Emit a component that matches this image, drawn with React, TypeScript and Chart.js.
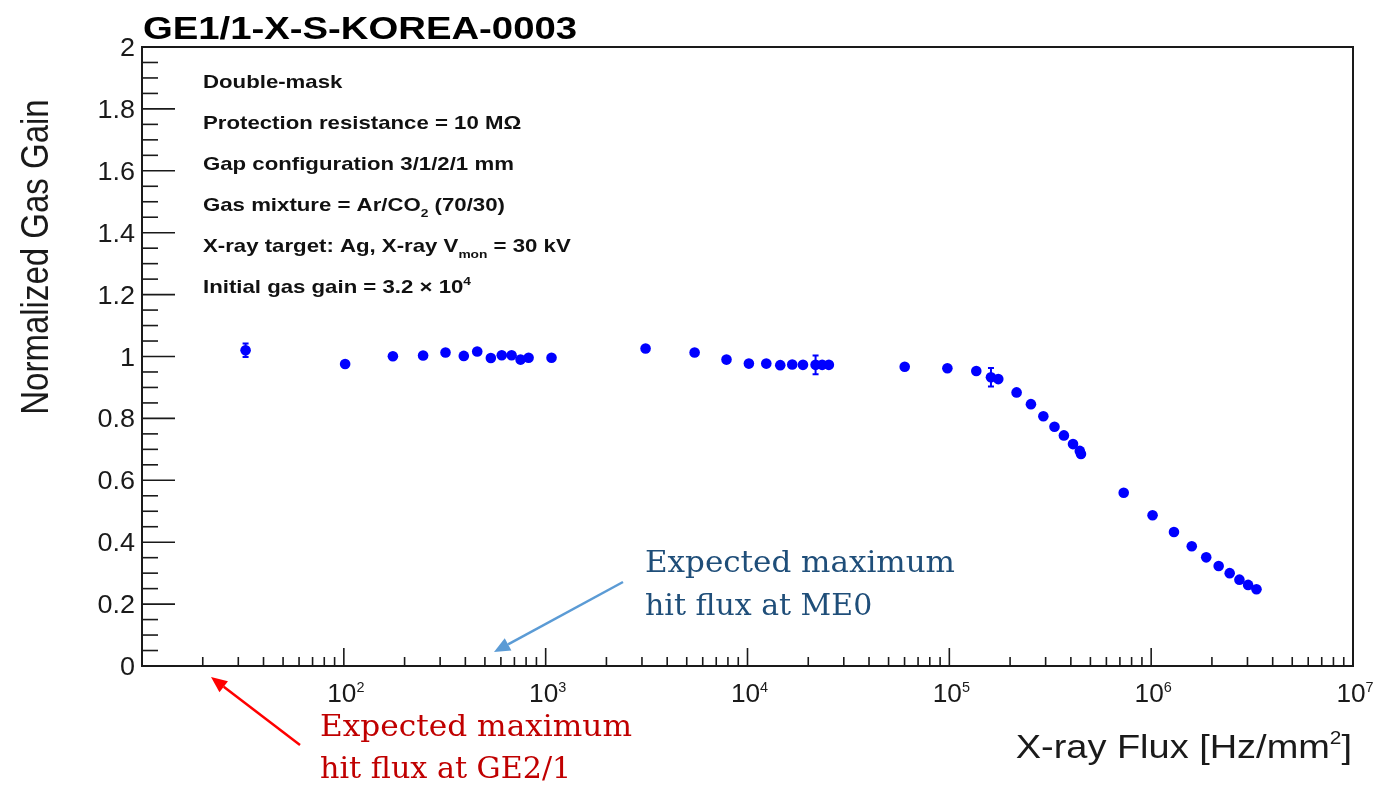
import React, { useEffect, useRef } from "react";
import { Chart, registerables } from "chart.js";

Chart.register(...registerables);

// ---------------- data ----------------
const fluxHzPerMm2 = [
  32.6, 101.5, 175, 247, 319, 393, 458, 535, 606, 678, 751, 823, 1069,
  3126, 5470, 7870, 10160, 12390, 14530, 16660, 18830, 21740, 23440, 25300,
  60100, 97800, 136000, 160800, 174800, 215400, 253700, 292300, 331900,
  369500, 410000, 443000, 449000, 731000, 1016000, 1297000, 1589000,
  1874000, 2160000, 2449000, 2737000, 3022000, 3325000,
];
const normalizedGain = [
  1.02, 0.976, 1.001, 1.003, 1.013, 1.002, 1.016, 0.995, 1.004, 1.004, 0.99,
  0.996, 0.996, 1.026, 1.013, 0.99, 0.977, 0.977, 0.972, 0.974, 0.973, 0.973,
  0.973, 0.973, 0.967, 0.962, 0.953, 0.933, 0.927, 0.884, 0.846, 0.807,
  0.773, 0.745, 0.717, 0.695, 0.685, 0.56, 0.487, 0.433, 0.387, 0.351, 0.323,
  0.3, 0.279, 0.262, 0.248,
];
const gainError = [
  0.022, 0, 0, 0, 0, 0, 0, 0, 0, 0, 0, 0, 0, 0, 0, 0, 0, 0, 0, 0, 0, 0.03, 0,
  0, 0, 0, 0, 0.03, 0, 0, 0, 0, 0, 0, 0, 0, 0, 0, 0, 0, 0, 0, 0, 0, 0, 0, 0,
];

const xMin = 10;
const xMax = 1e7;
const yMin = 0;
const yMax = 2;
const yTickValues = [0, 0.2, 0.4, 0.6, 0.8, 1, 1.2, 1.4, 1.6, 1.8, 2];
const yTickLabels = ["0", "0.2", "0.4", "0.6", "0.8", "1", "1.2", "1.4", "1.6", "1.8", "2"];
const yMinorPerMajor = 4;
const xDecadeExponents = [2, 3, 4, 5, 6, 7];
const xTickBase = "10";

const chartTitle = "GE1/1-X-S-KOREA-0003";
const yAxisTitle = "Normalized Gas Gain";
const xAxisTitle = [
  { t: "X-ray Flux [Hz/mm" },
  { t: "2", k: "sup" },
  { t: "]" },
];
const infoLines = [
  [{ t: "Double-mask" }],
  [{ t: "Protection resistance = 10 M\u03A9" }],
  [{ t: "Gap configuration 3/1/2/1 mm" }],
  [{ t: "Gas mixture = Ar/CO" }, { t: "2", k: "sub" }, { t: " (70/30)" }],
  [{ t: "X-ray target: Ag, X-ray V" }, { t: "mon", k: "sub" }, { t: " = 30 kV" }],
  [{ t: "Initial gas gain = 3.2 \u00D7 10" }, { t: "4", k: "sup" }],
];
const me0Note = ["Expected maximum", "hit flux at ME0"];
const ge21Note = ["Expected maximum", "hit flux at GE2/1"];

// ---------------- drawing helpers ----------------
type Seg = { t: string; k?: string };

function drawRich(
  ctx: CanvasRenderingContext2D,
  segs: Seg[],
  x: number,
  y: number,
  o: { size: number; weight?: string; family?: string; align?: string; sx?: number; width?: number; color?: string; small?: number }
) {
  const family = o.family || "'Liberation Sans', Arial, sans-serif";
  const weight = o.weight || "normal";
  const small = o.size * (o.small || 0.62);
  const fontFor = (k?: string) =>
    `${weight} ${k ? small : o.size}px ${family}`;
  let w = 0;
  const widths = segs.map((s) => {
    ctx.font = fontFor(s.k);
    const m = ctx.measureText(s.t).width;
    w += m;
    return m;
  });
  const sx = o.width ? o.width / w : o.sx || 1;
  const total = w * sx;
  let x0 = x;
  if (o.align === "right") x0 = x - total;
  else if (o.align === "center") x0 = x - total / 2;
  ctx.save();
  ctx.translate(x0, y);
  ctx.scale(sx, 1);
  ctx.fillStyle = o.color || "#111";
  ctx.textBaseline = "alphabetic";
  ctx.textAlign = "left";
  let cx = 0;
  segs.forEach((s, i) => {
    ctx.font = fontFor(s.k);
    let dy = 0;
    if (s.k === "sup") dy = -o.size * 0.42;
    if (s.k === "sub") dy = o.size * 0.3;
    ctx.fillText(s.t, cx, dy);
    cx += widths[i];
  });
  ctx.restore();
}

function arrow(
  ctx: CanvasRenderingContext2D,
  x1: number,
  y1: number,
  x2: number,
  y2: number,
  color: string
) {
  const ang = Math.atan2(y2 - y1, x2 - x1);
  const hl = 16;
  const hw = 7;
  const bx = x2 - hl * Math.cos(ang);
  const by = y2 - hl * Math.sin(ang);
  ctx.save();
  ctx.strokeStyle = color;
  ctx.fillStyle = color;
  ctx.lineWidth = 2.5;
  ctx.beginPath();
  ctx.moveTo(x1, y1);
  ctx.lineTo(bx, by);
  ctx.stroke();
  ctx.beginPath();
  ctx.moveTo(x2, y2);
  ctx.lineTo(bx + hw * Math.sin(ang), by - hw * Math.cos(ang));
  ctx.lineTo(bx - hw * Math.sin(ang), by + hw * Math.cos(ang));
  ctx.closePath();
  ctx.fill();
  ctx.restore();
}

const rootStylePlugin = {
  id: "rootStyle",
  beforeDatasetsDraw(chart: any) {
    const ctx: CanvasRenderingContext2D = chart.ctx;
    const { left, right, top, bottom } = chart.chartArea;
    const xs = chart.scales.x;
    const ys = chart.scales.y;
    ctx.save();
    // frame
    ctx.strokeStyle = "#1a1a1a";
    ctx.lineWidth = 2;
    ctx.strokeRect(left, top, right - left, bottom - top);

    // y ticks
    ctx.lineWidth = 1.6;
    for (let i = 0; i < yTickValues.length; i++) {
      const v = yTickValues[i];
      const py = ys.getPixelForValue(v);
      ctx.beginPath();
      ctx.moveTo(left, py);
      ctx.lineTo(left + 33, py);
      ctx.stroke();
      if (i < yTickValues.length - 1) {
        const step = (yTickValues[i + 1] - v) / yMinorPerMajor;
        for (let j = 1; j < yMinorPerMajor; j++) {
          const pm = ys.getPixelForValue(v + j * step);
          ctx.beginPath();
          ctx.moveTo(left, pm);
          ctx.lineTo(left + 16, pm);
          ctx.stroke();
        }
      }
      drawRich(ctx, [{ t: yTickLabels[i] }], 135, py + 9, {
        size: 25,
        align: "right",
        sx: 1.08,
        color: "#1a1a1a",
      });
    }

    // x ticks
    const firstExp = Math.round(Math.log10(xMin));
    const lastExp = Math.round(Math.log10(xMax));
    for (let e = firstExp; e <= lastExp; e++) {
      for (let m = 1; m <= 9; m++) {
        const v = m * Math.pow(10, e);
        if (v < xMin || v > xMax) continue;
        const px = xs.getPixelForValue(v);
        const len = m === 1 ? 18 : 9;
        ctx.beginPath();
        ctx.moveTo(px, bottom);
        ctx.lineTo(px, bottom - len);
        ctx.stroke();
      }
    }
    xDecadeExponents.forEach((e) => {
      const px = xs.getPixelForValue(Math.pow(10, e));
      drawRich(ctx, [{ t: xTickBase }, { t: String(e), k: "sup" }], px + 2, 702, {
        size: 25,
        align: "center",
        sx: 1.05,
        small: 0.55,
        color: "#1a1a1a",
      });
    });

    // titles
    drawRich(ctx, [{ t: chartTitle }], 143, 39, {
      size: 31,
      weight: "bold",
      width: 434,
      color: "#000",
    });
    drawRich(ctx, xAxisTitle, 1352, 758, {
      size: 33,
      sx: 1.15,
      align: "right",
      small: 0.55,
      color: "#1a1a1a",
    });
    // y title rotated
    ctx.save();
    ctx.translate(48, 257);
    ctx.rotate(-Math.PI / 2);
    ctx.scale(1, 1.2);
    ctx.font = "normal 33px 'Liberation Sans', Arial, sans-serif";
    ctx.fillStyle = "#1a1a1a";
    ctx.textAlign = "center";
    ctx.textBaseline = "alphabetic";
    ctx.fillText(yAxisTitle, 0, 0);
    ctx.restore();

    // info text
    infoLines.forEach((segs, i) => {
      drawRich(ctx, segs, 203, 88 + i * 41, {
        size: 18.5,
        weight: "bold",
        sx: 1.2,
        color: "#111",
      });
    });

    // error bars
    ctx.strokeStyle = "#0000ff";
    ctx.lineWidth = 2;
    fluxHzPerMm2.forEach((f, i) => {
      const err = gainError[i];
      if (!err) return;
      const px = xs.getPixelForValue(f);
      const y1 = ys.getPixelForValue(normalizedGain[i] + err);
      const y2 = ys.getPixelForValue(normalizedGain[i] - err);
      ctx.beginPath();
      ctx.moveTo(px, y1);
      ctx.lineTo(px, y2);
      ctx.moveTo(px - 3, y1);
      ctx.lineTo(px + 3, y1);
      ctx.moveTo(px - 3, y2);
      ctx.lineTo(px + 3, y2);
      ctx.stroke();
    });
    ctx.restore();
  },
  afterDraw(chart: any) {
    const ctx: CanvasRenderingContext2D = chart.ctx;
    const serif = "'DejaVu Serif', 'Liberation Serif', serif";
    // ME0 annotation
    drawRich(ctx, [{ t: me0Note[0] }], 645, 572, { size: 29, family: serif, width: 310, color: "#1f4e79" });
    drawRich(ctx, [{ t: me0Note[1] }], 645, 615, { size: 29, family: serif, sx: 310 / 300, color: "#1f4e79" });
    arrow(ctx, 623, 582, 494, 652, "#5b9bd5");
    // GE2/1 annotation
    drawRich(ctx, [{ t: ge21Note[0] }], 320, 736, { size: 29, family: serif, width: 312, color: "#c00000" });
    drawRich(ctx, [{ t: ge21Note[1] }], 320, 778, { size: 29, family: serif, sx: 312 / 300, color: "#c00000" });
    arrow(ctx, 300, 745, 211, 677, "#ff0000");
  },
};

export default function App() {
  const ref = useRef<HTMLCanvasElement | null>(null);
  useEffect(() => {
    document.body.style.margin = "0";
    const canvas = ref.current;
    if (!canvas) return;
    const chart = new Chart(canvas, {
      type: "scatter",
      data: {
        datasets: [
          {
            data: fluxHzPerMm2.map((x, i) => ({ x, y: normalizedGain[i] })),
            backgroundColor: "#0000ff",
            borderColor: "#0000ff",
            borderWidth: 0,
            pointRadius: 5.3,
            pointHoverRadius: 5.3,
            showLine: false,
          },
        ],
      },
      options: {
        animation: false,
        responsive: false,
        events: [],
        layout: { padding: { left: 142, right: 20, top: 47, bottom: 127 } },
        plugins: { legend: { display: false }, tooltip: { enabled: false } },
        scales: {
          x: { type: "logarithmic", min: xMin, max: xMax, display: false },
          y: { type: "linear", min: yMin, max: yMax, display: false },
        },
      },
      plugins: [rootStylePlugin],
    });
    return () => chart.destroy();
  }, []);
  return (
    <div style={{ position: "absolute", left: 0, top: 0, background: "#fff" }}>
      <canvas ref={ref} width={1373} height={793} style={{ display: "block" }} />
    </div>
  );
}
